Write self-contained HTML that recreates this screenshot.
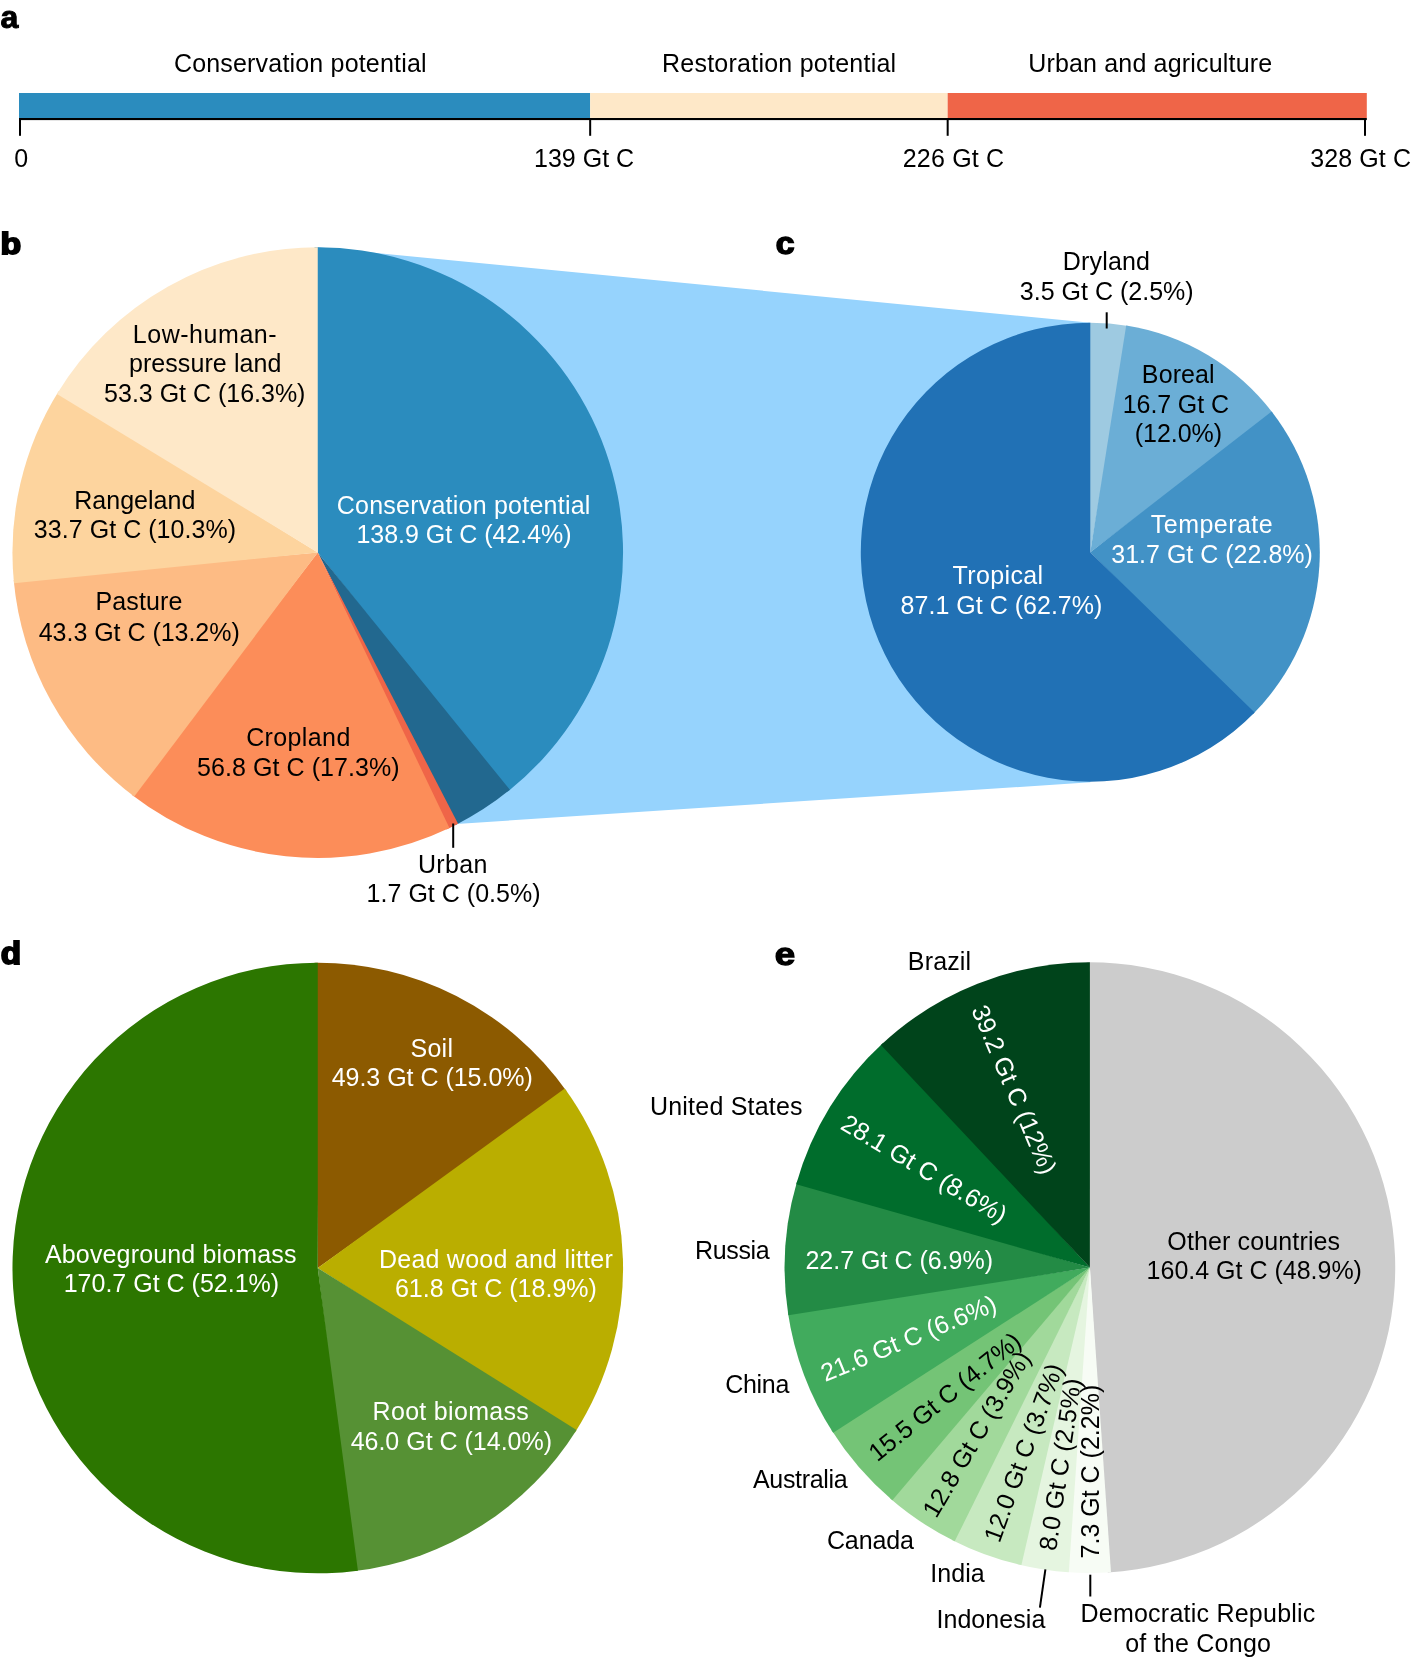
<!DOCTYPE html>
<html><head><meta charset="utf-8"><style>
html,body{margin:0;padding:0;background:#fff;}
svg{display:block;will-change:transform;}
text{font-family:"Liberation Sans",sans-serif;font-size:25px;}
</style></head><body>
<svg width="1411" height="1658" viewBox="0 0 1411 1658">
<rect width="1411" height="1658" fill="#fff"/>
<rect x="19" y="93" width="571.17" height="25.2" fill="#2b8cbe"/>
<rect x="590.17" y="93" width="357.50" height="25.2" fill="#fee8c8"/>
<rect x="947.67" y="93" width="419.13" height="25.2" fill="#ef6548"/>
<rect x="19" y="118" width="1347.80" height="2.1" fill="#000"/>
<rect x="19.00" y="118" width="2" height="17.8" fill="#000"/>
<rect x="589.17" y="118" width="2" height="17.8" fill="#000"/>
<rect x="946.67" y="118" width="2" height="17.8" fill="#000"/>
<rect x="1364.00" y="118" width="2" height="17.8" fill="#000"/>
<path d="M317.75,247.3L1090.3,322.70000000000005L1090.3,782.3000000000001L456.5,823.9Z" fill="#96d3fd"/>
<path d="M317.75,552.60L314.55,247.32A305.3,305.3 0 0 1 507.39,791.86Z" fill="#2b8cbe"/>
<path d="M317.75,552.60L509.88,789.86A305.3,305.3 0 0 1 455.21,825.20Z" fill="#22688f"/>
<path d="M317.75,552.60L458.06,823.75A305.3,305.3 0 0 1 446.58,829.39Z" fill="#ef6548"/>
<path d="M317.75,552.60L449.47,828.02A305.3,305.3 0 0 1 131.68,794.65Z" fill="#fc8d59"/>
<path d="M317.75,552.60L134.23,796.58A305.3,305.3 0 0 1 13.69,580.06Z" fill="#fdbb84"/>
<path d="M317.75,552.60L13.99,583.24A305.3,305.3 0 0 1 58.62,391.18Z" fill="#fdd49e"/>
<path d="M317.75,552.60L56.94,393.90A305.3,305.3 0 0 1 317.75,247.30Z" fill="#fee8c8"/>
<path d="M1090.30,552.20L1087.90,322.71A229.5,229.5 0 0 1 1128.57,325.91Z" fill="#9ecae1"/>
<path d="M1090.30,552.20L1126.20,325.53A229.5,229.5 0 0 1 1273.10,413.44Z" fill="#6baed6"/>
<path d="M1090.30,552.20L1271.64,411.54A229.5,229.5 0 0 1 1252.92,714.14Z" fill="#4292c6"/>
<path d="M1090.30,552.20L1254.61,712.43A229.5,229.5 0 1 1 1090.30,322.70Z" fill="#2171b5"/>
<rect x="452.2" y="823.5" width="2" height="24.3" fill="#000"/>
<rect x="1105.7" y="312.3" width="2" height="16.2" fill="#000"/>
<path d="M317.75,1268.00L314.55,962.72A305.3,305.3 0 0 1 566.61,1091.15Z" fill="#8c5a00"/>
<path d="M317.75,1268.00L564.74,1088.55A305.3,305.3 0 0 1 574.84,1432.67Z" fill="#baae00"/>
<path d="M317.75,1268.00L576.55,1429.97A305.3,305.3 0 0 1 354.75,1571.05Z" fill="#569134"/>
<path d="M317.75,1268.00L357.92,1570.65A305.3,305.3 0 1 1 317.75,962.70Z" fill="#2c7600"/>
<path d="M1089.90,1267.60L1086.70,962.32A305.3,305.3 0 0 1 1107.79,1572.38Z" fill="#cccccc"/>
<path d="M1089.90,1267.60L1110.98,1572.17A305.3,305.3 0 0 1 1065.63,1571.93Z" fill="#f7fcf5"/>
<path d="M1089.90,1267.60L1068.82,1572.17A305.3,305.3 0 0 1 1018.32,1564.39Z" fill="#e5f5e0"/>
<path d="M1089.90,1267.60L1021.43,1565.12A305.3,305.3 0 0 1 951.87,1539.91Z" fill="#c7e9c0"/>
<path d="M1089.90,1267.60L954.73,1541.34A305.3,305.3 0 0 1 889.93,1498.29Z" fill="#a1d99b"/>
<path d="M1089.90,1267.60L892.35,1500.37A305.3,305.3 0 0 1 831.44,1430.11Z" fill="#74c476"/>
<path d="M1089.90,1267.60L833.16,1432.80A305.3,305.3 0 0 1 787.88,1312.20Z" fill="#41ab5d"/>
<path d="M1089.90,1267.60L788.36,1315.36A305.3,305.3 0 0 1 797.08,1181.20Z" fill="#238b45"/>
<path d="M1089.90,1267.60L796.19,1184.27A305.3,305.3 0 0 1 883.25,1042.87Z" fill="#006d2c"/>
<path d="M1089.90,1267.60L880.91,1045.05A305.3,305.3 0 0 1 1089.90,962.30Z" fill="#00441b"/>
<line x1="1045.4" y1="1569.3" x2="1039.9" y2="1607.6" stroke="#000" stroke-width="2"/>
<rect x="1089.3" y="1574.7" width="2" height="21.8" fill="#000"/>
<text x="0" y="0" transform="translate(0.54,27.60) scale(0.3214,0.3219)" stroke="#000" stroke-width="3" style="font-weight:bold;font-size:100px">a</text>
<text x="0" y="0" transform="translate(0.48,253.80) scale(0.3387,0.3009)" stroke="#000" stroke-width="6" style="font-weight:bold;font-size:100px">b</text>
<text x="0" y="0" transform="translate(775.63,254.24) scale(0.3366,0.3061)" stroke="#000" stroke-width="5" style="font-weight:bold;font-size:100px">c</text>
<text x="0" y="0" transform="translate(0.73,964.19) scale(0.3334,0.3046)" stroke="#000" stroke-width="6" style="font-weight:bold;font-size:100px">d</text>
<text x="0" y="0" transform="translate(774.80,964.67) scale(0.3672,0.3130)" stroke="#000" stroke-width="4" style="font-weight:bold;font-size:100px">e</text>
<text x="173.93" y="71.80" fill="#000" textLength="252.64" lengthAdjust="spacing">Conservation potential</text>
<text x="661.95" y="71.80" fill="#000" textLength="234.22" lengthAdjust="spacing">Restoration potential</text>
<text x="1028.17" y="71.80" fill="#000" textLength="243.94" lengthAdjust="spacing">Urban and agriculture</text>
<text x="14.32" y="167.30" fill="#000" textLength="13.85" lengthAdjust="spacing">0</text>
<text x="534.00" y="167.30" fill="#000" textLength="100.16" lengthAdjust="spacing">139 Gt C</text>
<text x="902.74" y="167.30" fill="#000" textLength="101.41" lengthAdjust="spacing">226 Gt C</text>
<text x="1310.15" y="167.30" fill="#000" textLength="100.80" lengthAdjust="spacing">328 Gt C</text>
<text x="132.75" y="343.10" fill="#000" textLength="143.86" lengthAdjust="spacing">Low-human-</text>
<text x="128.89" y="372.30" fill="#000" textLength="152.52" lengthAdjust="spacing">pressure land</text>
<text x="104.10" y="401.90" fill="#000" textLength="201.35" lengthAdjust="spacing">53.3 Gt C (16.3%)</text>
<text x="74.25" y="509.00" fill="#000" textLength="121.06" lengthAdjust="spacing">Rangeland</text>
<text x="33.85" y="537.90" fill="#000" textLength="202.20" lengthAdjust="spacing">33.7 Gt C (10.3%)</text>
<text x="95.45" y="610.40" fill="#000" textLength="86.86" lengthAdjust="spacing">Pasture</text>
<text x="38.73" y="640.60" fill="#000" textLength="201.02" lengthAdjust="spacing">43.3 Gt C (13.2%)</text>
<text x="246.13" y="746.20" fill="#000" textLength="104.18" lengthAdjust="spacing">Cropland</text>
<text x="197.10" y="775.70" fill="#000" textLength="202.55" lengthAdjust="spacing">56.8 Gt C (17.3%)</text>
<text x="336.73" y="513.70" fill="#fff" textLength="253.64" lengthAdjust="spacing">Conservation potential</text>
<text x="356.40" y="543.00" fill="#fff" textLength="215.25" lengthAdjust="spacing">138.9 Gt C (42.4%)</text>
<text x="417.97" y="872.70" fill="#000" textLength="69.35" lengthAdjust="spacing">Urban</text>
<text x="366.60" y="902.20" fill="#000" textLength="173.95" lengthAdjust="spacing">1.7 Gt C (0.5%)</text>
<text x="1062.85" y="269.90" fill="#000" textLength="87.16" lengthAdjust="spacing">Dryland</text>
<text x="1019.85" y="299.50" fill="#000" textLength="173.80" lengthAdjust="spacing">3.5 Gt C (2.5%)</text>
<text x="1141.85" y="382.50" fill="#000" textLength="72.82" lengthAdjust="spacing">Boreal</text>
<text x="1122.80" y="412.60" fill="#000" textLength="106.16" lengthAdjust="spacing">16.7 Gt C</text>
<text x="1134.75" y="442.10" fill="#000" textLength="87.40" lengthAdjust="spacing">(12.0%)</text>
<text x="1150.84" y="533.10" fill="#fff" textLength="121.77" lengthAdjust="spacing">Temperate</text>
<text x="1111.25" y="562.70" fill="#fff" textLength="201.60" lengthAdjust="spacing">31.7 Gt C (22.8%)</text>
<text x="952.54" y="583.80" fill="#fff" textLength="90.63" lengthAdjust="spacing">Tropical</text>
<text x="900.61" y="613.90" fill="#fff" textLength="201.74" lengthAdjust="spacing">87.1 Gt C (62.7%)</text>
<text x="410.56" y="1056.80" fill="#fff" textLength="42.41" lengthAdjust="spacing">Soil</text>
<text x="331.63" y="1086.40" fill="#fff" textLength="201.22" lengthAdjust="spacing">49.3 Gt C (15.0%)</text>
<text x="378.95" y="1267.50" fill="#fff" textLength="233.87" lengthAdjust="spacing">Dead wood and litter</text>
<text x="394.93" y="1297.10" fill="#fff" textLength="202.02" lengthAdjust="spacing">61.8 Gt C (18.9%)</text>
<text x="44.95" y="1262.70" fill="#fff" textLength="251.55" lengthAdjust="spacing">Aboveground biomass</text>
<text x="63.70" y="1292.00" fill="#fff" textLength="215.45" lengthAdjust="spacing">170.7 Gt C (52.1%)</text>
<text x="372.55" y="1420.40" fill="#fff" textLength="156.25" lengthAdjust="spacing">Root biomass</text>
<text x="350.63" y="1450.30" fill="#fff" textLength="201.42" lengthAdjust="spacing">46.0 Gt C (14.0%)</text>
<text x="907.85" y="969.80" fill="#000" textLength="63.22" lengthAdjust="spacing">Brazil</text>
<text x="649.97" y="1114.90" fill="#000" textLength="152.63" lengthAdjust="spacing">United States</text>
<text x="695.05" y="1259.30" fill="#000" textLength="74.55" lengthAdjust="spacing">Russia</text>
<text x="725.13" y="1392.80" fill="#000" textLength="64.27" lengthAdjust="spacing">China</text>
<text x="752.95" y="1488.10" fill="#000" textLength="94.75" lengthAdjust="spacing">Australia</text>
<text x="826.93" y="1549.30" fill="#000" textLength="86.97" lengthAdjust="spacing">Canada</text>
<text x="930.29" y="1582.10" fill="#000" textLength="54.41" lengthAdjust="spacing">India</text>
<text x="936.39" y="1628.00" fill="#000" textLength="109.01" lengthAdjust="spacing">Indonesia</text>
<text x="1080.45" y="1622.30" fill="#000" textLength="234.91" lengthAdjust="spacing">Democratic Republic</text>
<text x="1125.15" y="1651.80" fill="#000" textLength="145.80" lengthAdjust="spacing">of the Congo</text>
<text x="1167.32" y="1249.50" fill="#000" textLength="172.79" lengthAdjust="spacing">Other countries</text>
<text x="1146.60" y="1278.80" fill="#000" textLength="215.35" lengthAdjust="spacing">160.4 Gt C (48.9%)</text>
<text x="805.44" y="1268.70" fill="#fff" textLength="187.57" lengthAdjust="spacing">22.7 Gt C (6.9%)</text>
<text x="0" y="0" fill="#fff" text-anchor="middle" transform="translate(1006.31,1092.95) rotate(67.00)">39.2 Gt C (12%)</text>
<text x="0" y="0" fill="#fff" text-anchor="middle" transform="translate(919.81,1176.17) rotate(30.80)">28.1 Gt C (8.6%)</text>
<text x="0" y="0" fill="#fff" text-anchor="middle" transform="translate(911.87,1346.19) rotate(-22.50)">21.6 Gt C (6.6%)</text>
<text x="0" y="0" fill="#000" text-anchor="middle" transform="translate(950.02,1403.41) rotate(-39.00)">15.5 Gt C (4.7%)</text>
<text x="0" y="0" fill="#000" text-anchor="middle" transform="translate(983.96,1438.38) rotate(-59.50)">12.8 Gt C (3.9%)</text>
<text x="0" y="0" fill="#000" text-anchor="middle" transform="translate(1031.53,1455.53) rotate(-70.00)">12.0 Gt C (3.7%)</text>
<text x="0" y="0" fill="#000" text-anchor="middle" transform="translate(1068.70,1465.65) rotate(-81.60)">8.0 Gt C (2.5%)</text>
<text x="0" y="0" fill="#000" text-anchor="middle" transform="translate(1099.12,1471.62) rotate(-90.00)">7.3 Gt C (2.2%)</text>
</svg>
</body></html>
